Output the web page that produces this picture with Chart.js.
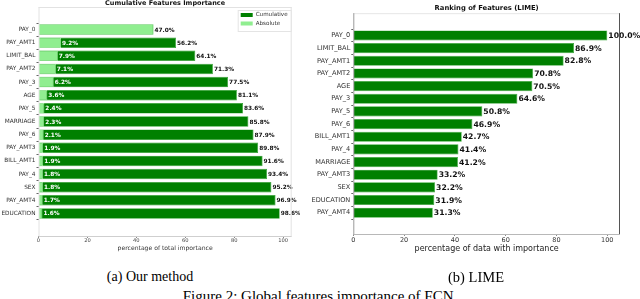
<!DOCTYPE html>
<html>
<head>
<meta charset="utf-8">
<script src="https://cdn.jsdelivr.net/npm/chart.js@4.4.1/dist/chart.umd.min.js"></script>
<style>
  html, body { margin: 0; padding: 0; background: #fff; }
  body { width: 640px; height: 299px; position: relative; overflow: hidden; }
  canvas { position: absolute; top: 0; }
  #chartA { left: 0; }
  #chartB { left: 290px; }
  .cap { position: absolute; font-family: "Liberation Serif", "Times New Roman", serif; color: #000; white-space: nowrap; transform: translateX(-50%); line-height: 1.15; }
</style>
</head>
<body>
<canvas id="chartA" width="300" height="260"></canvas>
<canvas id="chartB" width="350" height="260"></canvas>
<div class="cap" style="left:150px; top:269px; font-size:14px;">(a) Our method</div>
<div class="cap" style="left:476px; top:269px; font-size:14.5px;">(b) LIME</div>
<div class="cap" style="left:320px; top:288px; font-size:15px;">Figure 2: Global features importance of FCN.</div>
<script>
// (a) our method
const featuresA = ["PAY_0", "PAY_AMT1", "LIMIT_BAL", "PAY_AMT2", "PAY_3", "AGE", "PAY_5", "MARRIAGE",
                   "PAY_6", "PAY_AMT3", "BILL_AMT1", "PAY_4", "SEX", "PAY_AMT4", "EDUCATION"];
const absoluteA = [47.0, 9.2, 7.9, 7.1, 6.2, 3.6, 2.4, 2.3, 2.1, 1.9, 1.9, 1.8, 1.8, 1.7, 1.6];
const cumulativeA = [47.0, 56.2, 64.1, 71.3, 77.5, 81.1, 83.6, 85.8, 87.9, 89.8, 91.6, 93.4, 95.2, 96.9, 98.6];

// (b) LIME
const featuresB = ["PAY_0", "LIMIT_BAL", "PAY_AMT1", "PAY_AMT2", "AGE", "PAY_3", "PAY_5", "PAY_6",
                   "BILL_AMT1", "PAY_4", "MARRIAGE", "PAY_AMT3", "SEX", "EDUCATION", "PAY_AMT4"];
const limeB = [100.0, 86.9, 82.8, 70.8, 70.5, 64.6, 50.8, 46.9, 42.7, 41.4, 41.2, 33.2, 32.2, 31.9, 31.3];

const xTicks = [0, 20, 40, 60, 80, 100];

const FONT = "'DejaVu Sans', sans-serif";
const DARK_GREEN = "#008000";
const LIGHT_GREEN = "#90ee90";

// bars go on a numeric y axis so the margins above/below match matplotlib
function points(values) {
    return values.map((v, i) => ({ x: v, y: i }));
}

// spines round the plot area, one colour per side
const framePlugin = {
    id: "frame",
    afterDraw(chart, args, opts) {
        const { ctx, chartArea: a } = chart;
        const side = (color, x1, y1, x2, y2) => {
            if (!color) return;
            ctx.save();
            ctx.strokeStyle = color;
            ctx.lineWidth = 1;
            ctx.beginPath();
            ctx.moveTo(x1, y1);
            ctx.lineTo(x2, y2);
            ctx.stroke();
            ctx.restore();
        };
        side(opts.top, a.left, a.top + 0.5, a.right, a.top + 0.5);
        side(opts.bottom, a.left, a.bottom + 0.5, a.right, a.bottom + 0.5);
        side(opts.left, a.left + 0.5, a.top, a.left + 0.5, a.bottom);
        side(opts.right, a.right - 0.5, a.top, a.right - 0.5, a.bottom);
    }
};

// percentage text at the end of each bar
const barLabelsPlugin = {
    id: "barLabels",
    afterDatasetsDraw(chart, args, opts) {
        const ctx = chart.ctx;
        (opts.sets || []).forEach(set => {
            const meta = chart.getDatasetMeta(set.index);
            const values = chart.data.datasets[set.index].data;
            ctx.save();
            ctx.font = "bold " + set.size + "px " + FONT;
            ctx.fillStyle = set.color;
            ctx.textAlign = "left";
            ctx.textBaseline = "middle";
            meta.data.forEach((bar, i) => {
                ctx.fillText(values[i].x.toFixed(1) + "%", bar.x + 1, bar.y + 0.5);
            });
            ctx.restore();
        });
    }
};

// small boxed legend inside the top right of the plot
const boxLegendPlugin = {
    id: "boxLegend",
    afterDraw(chart, args, opts) {
        if (!opts.items) return;
        const { ctx, chartArea: a } = chart;
        const w = 53, h = 21;
        const x = a.right - w - 1, y = a.top + 3;
        ctx.save();
        ctx.fillStyle = "#fff";
        ctx.strokeStyle = "#e4e4e4";
        ctx.lineWidth = 1;
        ctx.fillRect(x, y, w, h);
        ctx.strokeRect(x + 0.5, y + 0.5, w, h);
        ctx.font = "5.6px " + FONT;
        ctx.textBaseline = "middle";
        opts.items.forEach((item, i) => {
            const cy = y + 5 + i * 8.5;
            ctx.fillStyle = item.color;
            ctx.fillRect(x + 3, cy - 2, 12, 4);
            ctx.fillStyle = "#333";
            ctx.fillText(item.label, x + 18, cy);
        });
        ctx.restore();
    }
};

Chart.register(framePlugin, barLabelsPlugin, boxLegendPlugin);

new Chart(document.getElementById("chartA"), {
    type: "bar",
    data: {
        datasets: [{
            label: "Cumulative",
            data: points(cumulativeA),
            backgroundColor: DARK_GREEN,
            borderColor: "#2fa12f",
            borderWidth: 0.7,
            order: 1
        }, {
            label: "Absolute",
            data: points(absoluteA),
            backgroundColor: LIGHT_GREEN,
            borderColor: "#b8f5b8",
            borderWidth: 0.7,
            order: 0
        }]
    },
    options: {
        indexAxis: "y",
        responsive: false,
        animation: false,
        events: [],
        datasets: { bar: { grouped: false, barPercentage: 0.8, categoryPercentage: 1 } },
        layout: { padding: { left: 0, right: 8.3, top: 0, bottom: 0 } },
        scales: {
            x: {
                type: "linear", min: 0, max: 103.5,
                afterBuildTicks: s => { s.ticks = xTicks.map(v => ({ value: v })); },
                afterFit: s => { s.height = 24; },
                ticks: { font: { family: FONT, size: 5.2 }, color: "#444", padding: 0, maxRotation: 0 },
                grid: { drawOnChartArea: false, tickLength: 2, color: "#888" },
                border: { display: false },
                title: {
                    display: true, text: "percentage of total importance",
                    font: { family: FONT, size: 6.1 }, color: "#333",
                    padding: { top: 0, bottom: 8 }
                }
            },
            y: {
                type: "linear", reverse: true, min: -1.14, max: 15.14,
                afterBuildTicks: s => { s.ticks = featuresA.map((f, i) => ({ value: i })); },
                afterFit: s => { s.width = 38.5; },
                ticks: { callback: v => featuresA[v], font: { family: FONT, size: 5.8 }, color: "#333", padding: 1, autoSkip: false },
                grid: { drawOnChartArea: false, tickLength: 2, color: "#666" },
                border: { display: false }
            }
        },
        plugins: {
            legend: { display: false },
            tooltip: { enabled: false },
            title: {
                display: true, text: "Cumulative Features Importance", fullSize: false,
                font: { family: FONT, size: 6.5, weight: "bold", lineHeight: 1 }, color: "#111",
                padding: { top: 0, bottom: 0.5 }
            },
            frame: { top: "#e2e2e2", bottom: "#cfcfcf", left: "#e2e2e2", right: "#e2e2e2" },
            barLabels: { sets: [{ index: 1, color: "#fff", size: 5.8 }, { index: 0, color: "#111", size: 5.8 }] },
            boxLegend: { items: [{ label: "Cumulative", color: DARK_GREEN }, { label: "Absolute", color: LIGHT_GREEN }] }
        }
    }
});

new Chart(document.getElementById("chartB"), {
    type: "bar",
    data: {
        datasets: [{
            label: "LIME",
            data: points(limeB),
            backgroundColor: DARK_GREEN,
            borderColor: "#3aa83a",
            borderWidth: 0.7
        }]
    },
    options: {
        indexAxis: "y",
        responsive: false,
        animation: false,
        events: [],
        datasets: { bar: { barPercentage: 0.8, categoryPercentage: 1 } },
        layout: { padding: { left: 0, right: 20, top: 4, bottom: 0 } },
        scales: {
            x: {
                type: "linear", min: 0, max: 105,
                afterBuildTicks: s => { s.ticks = xTicks.map(v => ({ value: v })); },
                afterFit: s => { s.height = 26; },
                ticks: { font: { family: FONT, size: 6.5 }, color: "#333", padding: 0, maxRotation: 0 },
                grid: { drawOnChartArea: false, tickLength: 2, color: "#888" },
                border: { display: false },
                title: {
                    display: true, text: "percentage of data with importance",
                    font: { family: FONT, size: 8 }, color: "#222",
                    padding: { top: 0, bottom: 5.9 }
                }
            },
            y: {
                type: "linear", reverse: true, min: -1.18, max: 15.1,
                afterBuildTicks: s => { s.ticks = featuresB.map((f, i) => ({ value: i })); },
                afterFit: s => { s.width = 63.3; },
                ticks: { callback: v => featuresB[v], font: { family: FONT, size: 6.6 }, color: "#333", padding: 1, autoSkip: false },
                grid: { drawOnChartArea: false, tickLength: 2, color: "#666" },
                border: { display: false }
            }
        },
        plugins: {
            legend: { display: false },
            tooltip: { enabled: false },
            title: {
                display: true, text: "Ranking of Features (LIME)", fullSize: false,
                font: { family: FONT, size: 6.8, weight: "bold", lineHeight: 1.2 }, color: "#111",
                padding: { top: 0, bottom: 1 }
            },
            frame: { top: "#e6e6e6", bottom: "#b8b8b8", left: "#9a9a9a", right: "#555" },
            barLabels: { sets: [{ index: 0, color: "#111", size: 7.7 }] }
        }
    }
});
</script>
</body>
</html>
